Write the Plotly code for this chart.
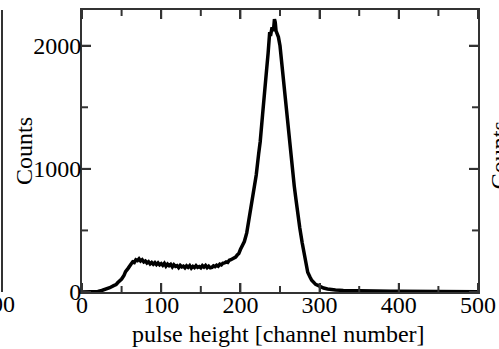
import plotly.graph_objects as go

# channel numbers and counts
channels = [0, 5, 10, 15, 20, 25, 30, 35, 40, 43, 45, 48, 50, 53, 55, 58, 60, 62, 64, 66, 68,
            70, 72, 74, 76, 78, 80, 82, 84, 86, 88, 90, 92, 94, 96, 98, 100, 102, 104, 106,
            108, 110, 112, 114, 116, 118, 120, 122, 124, 126, 128, 130, 132, 134, 136, 138,
            140, 142, 144, 146, 148, 150, 152, 154, 156, 158, 160, 162, 164, 166, 168, 170,
            172, 174, 176, 178, 180, 182, 184, 186, 188, 190, 192, 194, 196, 198, 200, 203,
            205, 208, 210, 213, 215, 218, 220, 223, 225, 228, 230, 233, 235, 237, 238, 240,
            241, 242, 243, 244, 245, 246, 248, 250, 253, 255, 258, 260, 263, 265, 268, 270,
            273, 275, 278, 280, 283, 285, 288, 290, 295, 300, 305, 310, 315, 320, 330, 340,
            350, 360, 370, 380, 390, 400, 410, 420, 430, 440, 450, 460, 470, 480, 490, 500]
counts = [0, 0, 1, 2, 5, 12, 22, 35, 52, 60, 75, 88, 105, 135, 165, 190, 215, 228, 245, 240,
          262, 255, 270, 252, 262, 244, 252, 236, 246, 228, 240, 226, 238, 222, 236, 220, 230,
          216, 232, 210, 226, 214, 224, 204, 222, 208, 214, 198, 216, 204, 210, 196, 212, 200,
          214, 194, 208, 198, 214, 200, 206, 196, 214, 202, 216, 198, 210, 196, 200, 212, 206,
          218, 210, 226, 220, 234, 236, 244, 240, 258, 262, 268, 280, 284, 300, 312, 345, 380,
          410, 480, 560, 640, 720, 850, 950, 1120, 1220, 1440, 1560, 1800, 1940, 2110, 2080,
          2150, 2120, 2140, 2215, 2190, 2120, 2100, 2070, 2000, 1800, 1700, 1480, 1350, 1120,
          1000, 860, 760, 600, 520, 400, 320, 220, 160, 120, 95, 62, 45, 32, 25, 20, 16, 13,
          11, 10, 9, 8, 8, 7, 7, 6, 6, 5, 5, 5, 4, 4, 4, 3, 3]

x_range = [0, 500]
y_range = [0, 2290]
x_major_step, x_minor_step = 100, 50
y_major_step, y_minor_step = 1000, 500

FONT = "Liberation Serif"
AX = "#333333"
MAJOR_LEN, MINOR_LEN = 9, 6

fig = go.Figure()
fig.add_trace(go.Scatter(x=channels, y=counts, mode="lines",
                         line=dict(color="black", width=3.5), hoverinfo="skip"))

fig.update_xaxes(range=x_range, tickmode="linear", tick0=0, dtick=x_major_step,
                 ticks="inside", ticklen=MAJOR_LEN, tickwidth=2, tickcolor=AX,
                 showline=True, linecolor=AX, linewidth=2, mirror="allticks",
                 showgrid=False, zeroline=False, ticklabelstandoff=-10,
                 tickfont=dict(family=FONT, size=24, color="black"))
fig.update_yaxes(range=y_range, tickmode="linear", tick0=0, dtick=y_major_step,
                 ticks="inside", ticklen=MAJOR_LEN, tickwidth=2, tickcolor=AX,
                 showline=True, linecolor=AX, linewidth=2, mirror="allticks",
                 showgrid=False, zeroline=False, ticklabelstandoff=-6,
                 tickfont=dict(family=FONT, size=24, color="black"))

# tick marks on all four sides (major + minor), anchored to the axes in pixel size
tick_shapes = []
for v in range(x_range[0], x_range[1] + 1, x_minor_step):
    ln = MAJOR_LEN if v % x_major_step == 0 else MINOR_LEN
    for anchor, sign in ((0, 1), (1, -1)):
        tick_shapes.append(dict(type="line", xref="x", yref="paper", ysizemode="pixel",
                                yanchor=anchor, x0=v, x1=v, y0=0, y1=sign * ln,
                                line=dict(color=AX, width=2)))
for v in range(y_range[0], y_range[1] + 1, y_minor_step):
    ln = MAJOR_LEN if v % y_major_step == 0 else MINOR_LEN
    for anchor, sign in ((0, 1), (1, -1)):
        tick_shapes.append(dict(type="line", xref="paper", yref="y", xsizemode="pixel",
                                xanchor=anchor, y0=v, y1=v, x0=0, x1=sign * ln,
                                line=dict(color=AX, width=2)))

fig.update_layout(
    width=499, height=349,
    margin=dict(l=82, r=21, t=10, b=57, autoexpand=False),
    paper_bgcolor="white", plot_bgcolor="white",
    showlegend=False,
    font=dict(family=FONT, size=24, color="black"),
    annotations=[
        dict(text="pulse height [channel number]", xref="paper", yref="paper",
             x=0.495, y=(292 - 334) / 282, xanchor="center", yanchor="middle",
             showarrow=False, font=dict(family=FONT, size=24, color="black")),
        dict(text="Counts", textangle=-90, xref="paper", yref="paper",
             x=(24 - 82) / 396, y=0.5, xanchor="center", yanchor="middle",
             showarrow=False, font=dict(family=FONT, size=24, color="black")),
        dict(text="Counts", textangle=-90, xref="paper", yref="paper",
             x=(499 - 82) / 396, y=0.485, xanchor="center", yanchor="middle",
             showarrow=False, font=dict(family=FONT, size=24, color="black")),
        dict(text="500", xref="paper", yref="paper",
             x=(17 - 82) / 396, y=(292 - 304) / 282, xanchor="right", yanchor="middle",
             showarrow=False, font=dict(family=FONT, size=24, color="black")),
    ],
    shapes=[
        dict(type="line", xref="paper", yref="paper",
             x0=(2 - 82) / 396, x1=(2 - 82) / 396, y0=0, y1=1,
             line=dict(color=AX, width=2)),
    ] + tick_shapes,
)

fig.write_html("out.html")
